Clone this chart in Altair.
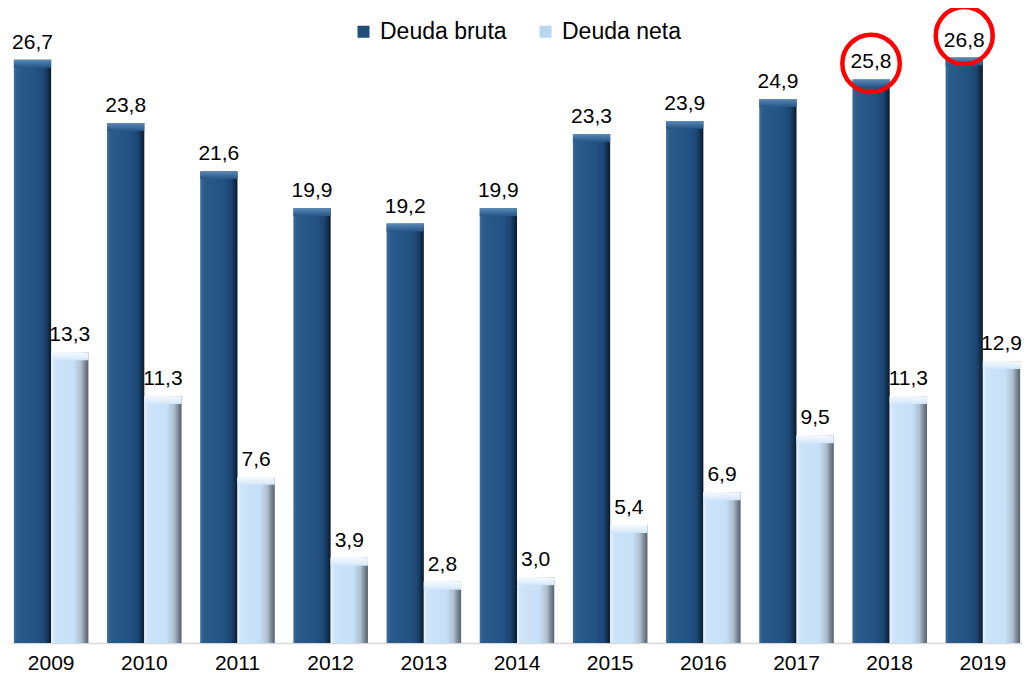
import altair as alt
import pandas as pd

years = ["2009", "2010", "2011", "2012", "2013", "2014", "2015", "2016", "2017", "2018", "2019"]
series_names = ["Deuda bruta", "Deuda neta"]
bruta = [26.7, 23.8, 21.6, 19.9, 19.2, 19.9, 23.3, 23.9, 24.9, 25.8, 26.8]
neta = [13.3, 11.3, 7.6, 3.9, 2.8, 3.0, 5.4, 6.9, 9.5, 11.3, 12.9]

rows = []
for y, b, n in zip(years, bruta, neta):
    rows.append({"year": y, "series": series_names[0], "value": b})
    rows.append({"year": y, "series": series_names[1], "value": n})
df = pd.DataFrame(rows)

FONT = "Liberation Sans"

xscale = alt.Scale(domain=years, paddingInner=0.2, paddingOuter=0.02)
yscale = alt.Scale(domain=[0, 29.07], nice=False, zero=True)
offscale = alt.Scale(domain=series_names, paddingInner=0, paddingOuter=0)

X = alt.X("year:N", scale=xscale, sort=years,
          axis=alt.Axis(title=None, labelFont=FONT, labelFontSize=21, labelColor="black",
                        labelAngle=0, ticks=False, domainColor="#d9d9d9", domainWidth=1.5,
                        labelPadding=9))
XO = alt.XOffset("series:N", scale=offscale)
Y = alt.Y("value:Q", scale=yscale, axis=None)

base = alt.Chart(df).transform_calculate(
    label="replace(format(datum.value, '.1f'), '.', ',')",
    cap="datum.value - 0.36",
)


def grad(stops, vertical=False):
    return alt.Gradient(
        gradient="linear",
        stops=[alt.GradientStop(color=c, offset=o) for o, c in stops],
        x1=0, x2=0 if vertical else 1, y1=0, y2=1 if vertical else 0,
    )


dark_body = grad([(0, "#3f6e9c"), (0.1, "#2b5b8a"), (0.6, "#235383"), (0.82, "#1c4673"),
                  (0.92, "#12304f"), (1, "#0a1828")])
dark_cap = grad([(0, "#5d8bb8"), (0.5, "#3e6e9d"), (1, "#265686")], vertical=True)
light_body = grad([(0, "#e8f3fd"), (0.1, "#cde4f9"), (0.6, "#c6e0f7"), (0.8, "#aebfcf"),
                   (0.9, "#7f8c99"), (1, "#55606b")])
light_cap = grad([(0, "#f4f9fe"), (0.5, "#e6f1fc"), (1, "#cfe5f9")], vertical=True)

is_bruta = "datum.series == 'Deuda bruta'"
is_neta = "datum.series == 'Deuda neta'"

dark = base.transform_filter(is_bruta).mark_bar(color=dark_body).encode(x=X, xOffset=XO, y=Y)
dark_top = base.transform_filter(is_bruta).mark_bar(color=dark_cap).encode(
    x=X, xOffset=XO, y=Y, y2="cap:Q")
light = base.transform_filter(is_neta).mark_bar(color=light_body).encode(x=X, xOffset=XO, y=Y)
light_top = base.transform_filter(is_neta).mark_bar(color=light_cap).encode(
    x=X, xOffset=XO, y=Y, y2="cap:Q")

labels = base.mark_text(font=FONT, fontSize=21, dy=-11, baseline="alphabetic",
                        color="black").encode(x=X, xOffset=XO, y=Y, text="label:N")

legend_layer = base.mark_square(opacity=0).encode(
    x=X, xOffset=XO, y=Y,
    color=alt.Color("series:N",
                    scale=alt.Scale(domain=series_names, range=["#1f4e79", "#b9d6f0"]),
                    legend=alt.Legend(orient="none", legendX=340, legendY=12,
                                      direction="horizontal", title=None,
                                      labelFont=FONT, labelFontSize=23, labelColor="black",
                                      symbolType="square", symbolSize=144, symbolOpacity=1,
                                      symbolStrokeWidth=0, labelOffset=5, columnPadding=27,
                                      padding=0)),
)

circle_2018 = base.transform_filter(is_bruta + " && datum.year == '2018'").mark_point(
    shape="circle", filled=False, color="#ff0000", strokeWidth=4.5, size=3300,
    yOffset=-16, opacity=1).encode(x=X, xOffset=XO, y=Y)
circle_2019 = base.transform_filter(is_bruta + " && datum.year == '2019'").mark_point(
    shape="circle", filled=False, color="#ff0000", strokeWidth=4.5, size=3250,
    yOffset=-22, opacity=1).encode(x=X, xOffset=XO, y=Y)

chart = alt.layer(
    dark, dark_top, light, light_top, labels, legend_layer, circle_2018, circle_2019
).properties(
    width=1010, height=635,
    autosize=alt.AutoSizeParams(type="none"),
    padding={"left": 4, "top": 0, "right": 0, "bottom": 32},
).configure_view(stroke=None)

chart.save("out.html", embed_options={"renderer": "svg", "actions": False})
